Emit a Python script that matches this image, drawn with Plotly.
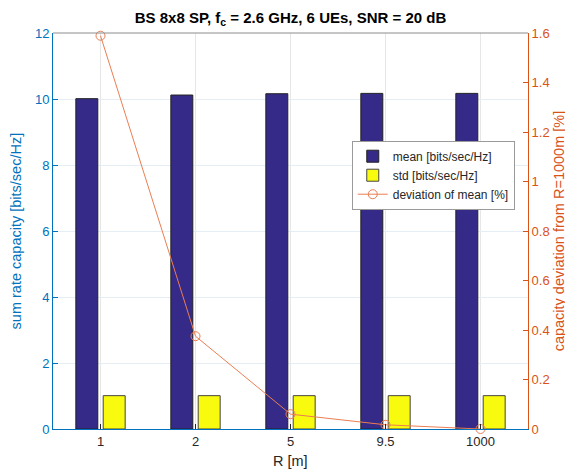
import plotly.graph_objects as go

categories = ["1", "2", "5", "9.5", "1000"]
mean_vals = [10.01, 10.12, 10.16, 10.17, 10.17]
std_vals = [1.01, 1.01, 1.01, 1.01, 1.01]
dev_vals = [1.589, 0.375, 0.06, 0.017, 0.0]

BLUE = "#0072BD"
ORANGE = "#D95319"
LINE_OR = "#EA7E52"
FONT = "Liberation Sans, Arial, sans-serif"

fig = go.Figure()
fig.add_trace(go.Bar(x=categories, y=mean_vals, name="mean [bits/sec/Hz]",
                     marker=dict(color="#352A87", line=dict(color="#222222", width=1))))
fig.add_trace(go.Bar(x=categories, y=std_vals, name="std [bits/sec/Hz]",
                     marker=dict(color="#F9FB0E", line=dict(color="#444444", width=1))))
fig.add_trace(go.Scatter(x=categories, y=dev_vals, name="deviation of mean [%]", yaxis="y2",
                         mode="lines+markers", cliponaxis=False,
                         line=dict(color=LINE_OR, width=1),
                         marker=dict(symbol="circle-open", size=9, color=LINE_OR, line=dict(width=1))))

fig.update_layout(
    width=565, height=462,
    margin=dict(l=45, r=45, t=25, b=41, autoexpand=False),
    paper_bgcolor="white", plot_bgcolor="white",
    font=dict(family=FONT, size=13, color="#262626"),
    barmode="group", bargap=0.424, bargroupgap=0.197,
    title=dict(text="<b>BS 8x8 SP, f<sub>c</sub> = 2.6 GHz, 6 UEs, SNR = 20 dB</b>",
               x=0.5, xanchor="center", y=0.99, yanchor="top",
               font=dict(size=15, color="#000000")),
    xaxis=dict(type="category", range=[-0.5, 4.5], automargin=False,
               showgrid=True, gridcolor="#e6e6e6", gridwidth=1,
               showline=True, linecolor=BLUE, linewidth=1, mirror=False,
               ticks="inside", ticklen=5, tickcolor="#262626",
               tickfont=dict(size=13, color="#262626")),
    yaxis=dict(range=[0, 12], dtick=2, tick0=0, automargin=False,
               showgrid=True, gridcolor="#e5edf5", gridwidth=1, zeroline=False,
               showline=True, linecolor=BLUE, linewidth=1,
               ticks="inside", ticklen=5, tickcolor=BLUE,
               tickfont=dict(size=13, color=BLUE)),
    yaxis2=dict(range=[0, 1.6], dtick=0.2, tick0=0, overlaying="y", side="right",
                automargin=False,
                showgrid=False, zeroline=False,
                showline=True, linecolor=ORANGE, linewidth=1,
                ticks="inside", ticklen=5, tickcolor=ORANGE,
                tickformat="~g",
                tickfont=dict(size=13, color=ORANGE)),
    legend=dict(x=0.629, y=0.728, xanchor="left", yanchor="top",
                bgcolor="white", bordercolor="#9a9a9a", borderwidth=1,
                font=dict(size=12, color="#262626"),
                tracegroupgap=0, itemwidth=30),
    showlegend=True,
)

# axis titles
fig.add_annotation(text="R [m]", xref="paper", yref="paper",
                   x=0.5, y=-0.081, xanchor="center", yanchor="middle",
                   showarrow=False, font=dict(size=14.5, color="#262626"))
fig.add_annotation(text="sum rate capacity [bits/sec/Hz]", xref="paper", yref="paper",
                   x=-0.077, y=0.5, xanchor="center", yanchor="middle", textangle=-90,
                   showarrow=False, font=dict(size=14.5, color=BLUE))
fig.add_annotation(text="capacity deviation from R=1000m [%]", xref="paper", yref="paper",
                   x=1.066, y=0.5, xanchor="center", yanchor="middle", textangle=-90,
                   showarrow=False, font=dict(size=14.5, color=ORANGE))

# top box line
fig.add_shape(type="line", xref="paper", yref="paper", x0=0, x1=1, y0=1, y1=1,
              line=dict(color="#8c8c8c", width=1))

fig.write_html("out.html")
